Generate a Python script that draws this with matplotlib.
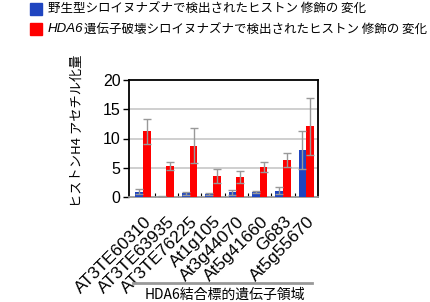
import matplotlib
matplotlib.use("Agg")
import matplotlib.pyplot as plt
import matplotlib.transforms as mtransforms
import numpy as np

genes = ["AT3TE60310", "AT3TE63935", "AT3TE76225", "At1g105", "At3g44070",
         "At5g41660", "G683", "At5g55670"]
wt_vals = [0.9, 0.1, 0.6, 0.5, 0.8, 0.8, 1.1, 8.0]
wt_err = [0.4, 0.1, 0.3, 0.2, 0.4, 0.2, 0.6, 3.2]
hda6_vals = [11.2, 5.3, 8.8, 3.6, 3.4, 5.1, 6.4, 12.1]
hda6_err = [2.2, 0.6, 3.0, 1.2, 1.0, 0.8, 1.2, 4.9]

legend_wt = "野生型シロイヌナズナで検出されたヒストン 修飾の 変化"
legend_hda6_rest = "遺伝子破壊シロイヌナズナで検出されたヒストン 修飾の 変化"
ylabel = "ヒストンH4 アセチル化量"
xgroup_label = "HDA6結合標的遺伝子領域"
yticks = [0, 5, 10, 15, 20]

BLUE = "#1f45c0"
RED = "#ff0000"
GRAY = "#999999"
JP = ["Noto Sans CJK JP", "DejaVu Sans"]
LAT = ["Liberation Sans", "DejaVu Sans"]

fig = plt.figure(figsize=(4.30, 3.02), dpi=100)
ax = fig.add_axes([129/430, 1-197/302, (318-129)/430, (197-80)/302])

x = np.arange(len(genes))
w = 0.33
ax.bar(x - w/2, wt_vals, w, color=BLUE, zorder=3)
ax.bar(x + w/2, hda6_vals, w, color=RED, zorder=3)
ax.errorbar(x - w/2, wt_vals, yerr=wt_err, fmt="none", ecolor=GRAY,
            elinewidth=1, capsize=3, capthick=1, zorder=4)
ax.errorbar(x + w/2, hda6_vals, yerr=hda6_err, fmt="none", ecolor=GRAY,
            elinewidth=1, capsize=3, capthick=1, zorder=4)

ax.set_xlim(-0.6, len(genes) - 0.5)
ax.set_ylim(0, 20)
ax.set_yticks(yticks)
ax.set_yticklabels([str(v) for v in yticks], fontfamily=LAT, fontsize=11.5)
for v in yticks[1:-1]:
    ax.axhline(v, color="#cccccc", lw=1.3, zorder=1)

ax.set_xticks(x)
ax.set_xticklabels(genes, rotation=45, ha="right", va="center",
                   rotation_mode="anchor", fontfamily=LAT, fontsize=12.5)
ax.tick_params(axis="x", length=0, pad=16)
offset = mtransforms.ScaledTranslation(6/100, 0, fig.dpi_scale_trans)
for lab in ax.get_xticklabels():
    lab.set_transform(lab.get_transform() + offset)
ax.set_xticks(x[:-1] + 0.5, minor=True)
ax.tick_params(axis="x", which="minor", direction="in", length=3, width=0.8)
ax.tick_params(axis="y", direction="out", length=4, width=1, pad=2)

for s in ["left", "top", "right"]:
    ax.spines[s].set_linewidth(1.3)
    ax.spines[s].set_color("black")
ax.spines["bottom"].set_color(GRAY)
ax.spines["bottom"].set_linewidth(1.3)

fig.text(77/430, 1-131/302, ylabel, rotation=90, ha="center", va="center",
         fontfamily=JP, fontsize=9.5)

# legend
y1, y2 = 8.5, 29
fig.patches.append(matplotlib.patches.Rectangle((30/430, 1-(y1+6)/302), 12/430, 12/302,
                   transform=fig.transFigure, color=BLUE))
fig.patches.append(matplotlib.patches.Rectangle((30/430, 1-(y2+6)/302), 12/430, 12/302,
                   transform=fig.transFigure, color=RED))
fig.text(48/430, 1-y1/302, legend_wt, ha="left", va="center", fontfamily=JP, fontsize=9)
t = fig.text(48/430, 1-y2/302, "HDA6", ha="left", va="center", fontfamily=LAT,
             fontsize=9.5, style="italic")
fig.canvas.draw()
bb = t.get_window_extent()
fig.text(bb.x1/430 + 1/430, 1-y2/302, legend_hda6_rest, ha="left", va="center",
         fontfamily=JP, fontsize=9)

# group bracket line
fig.add_artist(matplotlib.lines.Line2D([133/430, 312/430], [1-283/302, 1-283/302],
               color=GRAY, lw=2))
fig.text(225/430, 1-295/302, xgroup_label, ha="center", va="center",
         fontfamily=JP, fontsize=10)

fig.savefig("out.png", dpi=100)
